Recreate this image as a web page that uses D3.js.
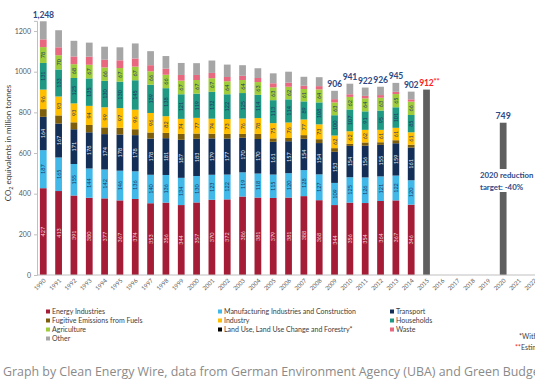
<!DOCTYPE html>
<html>
<head>
<meta charset="utf-8">
<script src="https://cdn.jsdelivr.net/npm/d3@7"></script>
<style>
  body { margin: 0; background: #fff; }
  svg { display: block; }
</style>
</head>
<body>
<div id="chartContainer"></div>
<script>
// Emissions per sector, million tonnes CO2 equivalents
const years = [1990, 1991, 1992, 1993, 1994, 1995, 1996, 1997, 1998, 1999, 2000, 2001, 2002,
  2003, 2004, 2005, 2006, 2007, 2008, 2009, 2010, 2011, 2012, 2013, 2014];
const energyIndustries = [427, 413, 391, 380, 377, 367, 374, 353, 356, 344, 357, 370, 372, 386, 381, 379, 381, 388, 368, 344, 356, 354, 364, 367, 346];
const manufacturing = [187, 165, 155, 144, 142, 146, 136, 140, 136, 134, 130, 123, 122, 119, 118, 115, 120, 128, 127, 109, 125, 126, 121, 122, 120];
const transport = [164, 167, 171, 178, 174, 178, 178, 178, 181, 187, 183, 179, 177, 170, 170, 161, 157, 154, 154, 153, 154, 156, 155, 159, 161];
const fugitive = [38, 40, 34, 36, 33, 33, 29, 30, 26, 29, 26, 23, 23, 19, 25, 17, 16, 18, 19, 18, 10, 16, 13, 15, 14];
const industry = [96, 93, 93, 94, 99, 97, 96, 96, 82, 74, 77, 74, 73, 76, 78, 75, 76, 77, 73, 62, 62, 62, 61, 61, 61];
const households = [131, 133, 125, 135, 130, 130, 145, 139, 138, 121, 119, 132, 122, 125, 114, 113, 114, 89, 108, 100, 107, 91, 95, 101, 85];
const agriculture = [78, 70, 68, 67, 66, 67, 67, 66, 66, 67, 67, 67, 64, 64, 63, 63, 62, 61, 64, 63, 62, 64, 63, 65, 66];
const waste = [38, 39, 38, 40, 38, 38, 40, 30, 30, 28, 25, 26, 21, 21, 20, 20, 20, 16, 16, 16, 13, 12, 13, 11, 11];
const other = [89, 84, 77, 69, 64, 64, 74, 69, 62, 59, 58, 61, 61, 52, 48, 49, 54, 44, 44, 41, 52, 41, 41, 44, 38];

// estimate and target bars
const projYears = [2015, 2020];
const projValues = [912, 749];

// x axis runs on to 2022
const allYears = [1990, 1991, 1992, 1993, 1994, 1995, 1996, 1997, 1998, 1999, 2000, 2001, 2002, 2003,
  2004, 2005, 2006, 2007, 2008, 2009, 2010, 2011, 2012, 2013, 2014, 2015, 2016, 2017, 2018, 2019,
  2020, 2021, 2022];
const yTicks = [0, 200, 400, 600, 800, 1000, 1200];
const totalLabelYears = [1990, 2009, 2010, 2011, 2012, 2013, 2014];

const sectors = [
  { key: "energy", name: "Energy Industries", values: energyIndustries, color: "#a51c36", label: "#f3d6dc" },
  { key: "manuf", name: "Manufacturing Industries and Construction", values: manufacturing, color: "#41b8e8", label: "#1f3864" },
  { key: "transport", name: "Transport", values: transport, color: "#132f57", label: "#e6ecf5" },
  { key: "fugitive", name: "Fugitive Emissions from Fuels", values: fugitive, color: "#7d5e0c", label: null },
  { key: "industry", name: "Industry", values: industry, color: "#ffbf00", label: "#1f3864" },
  { key: "households", name: "Households", values: households, color: "#1f9983", label: "#1f3864" },
  { key: "agriculture", name: "Agriculture", values: agriculture, color: "#9fcc3b", label: "#1f3864" },
  { key: "waste", name: "Waste", values: waste, color: "#e8687f", label: null },
  { key: "other", name: "Other", values: other, color: "#a6a6a6", label: null }
];

// legend: three columns like the original
const legendColumns = [
  [["Energy Industries", "#a51c36"], ["Fugitive Emissions from Fuels", "#7d5e0c"], ["Agriculture", "#9fcc3b"], ["Other", "#a6a6a6"]],
  [["Manufacturing Industries and Construction", "#41b8e8"], ["Industry", "#ffbf00"], ["Land Use, Land Use Change and Forestry*", "#000000"]],
  [["Transport", "#132f57"], ["Households", "#1f9983"], ["Waste", "#e8687f"]]
];

const width = 535, height = 384;
const font = "Lato, 'Liberation Sans', sans-serif";
const navy = "#2d4a86";

const svg = d3.select("#chartContainer")
  .append("svg")
  .attr("width", width)
  .attr("height", height)
  .style("font-family", font);

// Build rows for stacking
const rows = years.map((yr, i) => {
  const r = { year: yr };
  sectors.forEach(s => { r[s.key] = s.values[i]; });
  return r;
});
const stacked = d3.stack().keys(sectors.map(s => s.key))(rows);

const x = d3.scaleBand()
  .domain(allYears)
  .range([35.6, 541.5])
  .paddingInner(0.56)
  .paddingOuter(0.28);

const y = d3.scaleLinear()
  .domain([0, 1250])
  .range([275, 275 - 1250 * 0.2033]);

// y axis
const yAxis = svg.append("g")
  .attr("transform", "translate(37,0)")
  .call(d3.axisLeft(y).tickValues(yTicks).tickFormat(d3.format("d")).tickSize(3).tickPadding(3));
yAxis.select(".domain").attr("stroke", "#bfbfbf");
yAxis.selectAll(".tick line").attr("stroke", "#bfbfbf");
yAxis.selectAll(".tick text")
  .attr("fill", "#595959")
  .style("font-size", "7px")
  .style("font-family", font);

// y label
const yl = svg.append("text")
  .attr("transform", "translate(11,143) rotate(-90)")
  .attr("text-anchor", "middle")
  .attr("fill", "#404040")
  .style("font-size", "8px");
yl.append("tspan").text("CO");
yl.append("tspan").attr("dy", 2).style("font-size", "5.5px").text("2");
yl.append("tspan").attr("dy", -2).text(" equivalents in million tonnes");

// stacked bars
const layer = svg.selectAll(".layer")
  .data(stacked)
  .enter()
  .append("g")
  .attr("class", "layer")
  .attr("fill", (d, i) => sectors[i].color);

layer.selectAll("rect")
  .data(d => d)
  .enter()
  .append("rect")
  .attr("x", d => x(d.data.year))
  .attr("y", d => y(d[1]))
  .attr("width", x.bandwidth())
  .attr("height", d => y(d[0]) - y(d[1]));

// value labels inside segments
stacked.forEach((series, i) => {
  const s = sectors[i];
  if (!s.label) return;
  svg.append("g")
    .selectAll("text")
    .data(series)
    .enter()
    .append("text")
    .attr("transform", d => `translate(${x(d.data.year) + x.bandwidth() / 2 + 2},${y((d[0] + d[1]) / 2)}) rotate(-90)`)
    .attr("text-anchor", "middle")
    .attr("fill", s.label)
    .style("font-size", "5.5px")
    .text(d => d[1] - d[0]);
});

// projection bars
svg.selectAll(".proj")
  .data(projYears)
  .enter()
  .append("rect")
  .attr("class", "proj")
  .attr("x", d => x(d))
  .attr("y", (d, i) => y(projValues[i]))
  .attr("width", x.bandwidth())
  .attr("height", (d, i) => y(0) - y(projValues[i]))
  .attr("fill", "#5f5f5f");

// x axis line
svg.append("line")
  .attr("x1", 37).attr("x2", width)
  .attr("y1", y(0)).attr("y2", y(0))
  .attr("stroke", "#bfbfbf")
  .attr("stroke-width", 1.2);

// year labels
svg.append("g")
  .selectAll("text")
  .data(allYears)
  .enter()
  .append("text")
  .attr("transform", d => `translate(${x(d) + x.bandwidth() / 2 + 3},${y(0) + 6}) rotate(-45)`)
  .attr("text-anchor", "end")
  .attr("fill", "#595959")
  .style("font-size", "6px")
  .text(d => d);

// totals above bars
const fmt = d3.format(",");
svg.append("g")
  .selectAll("text")
  .data(rows.filter(r => totalLabelYears.includes(r.year)))
  .enter()
  .append("text")
  .attr("x", d => x(d.year) + x.bandwidth() / 2)
  .attr("y", d => y(d3.sum(sectors, s => d[s.key])) - 3.5)
  .attr("text-anchor", "middle")
  .attr("fill", navy)
  .style("font-size", "8.6px")
  .style("letter-spacing", "-0.2px")
  .style("font-weight", "bold")
  .text(d => fmt(d3.sum(sectors, s => d[s.key])));

// 2015 estimate label
const est = svg.append("text")
  .attr("x", x(projYears[0]) - 4)
  .attr("y", y(projValues[0]) - 4)
  .attr("fill", "#ff2020")
  .style("font-size", "8.6px")
  .style("letter-spacing", "-0.2px")
  .style("font-weight", "bold");
est.append("tspan").text(projValues[0]);
est.append("tspan").attr("dy", -2).style("font-size", "7.5px").text("**");

// 2020 label
svg.append("text")
  .attr("x", x(projYears[1]) + x.bandwidth() / 2)
  .attr("y", y(projValues[1]) - 4)
  .attr("text-anchor", "middle")
  .attr("fill", navy)
  .style("font-size", "8.8px")
  .style("font-weight", "bold")
  .text(projValues[1]);

// target note with white box over 2020 bar
svg.append("rect")
  .attr("x", 478).attr("y", 169)
  .attr("width", 60).attr("height", 23)
  .attr("fill", "#fff");
const tgt = svg.append("text")
  .attr("fill", navy)
  .style("font-size", "7.8px")
  .style("font-weight", "bold");
tgt.append("tspan").attr("x", 480).attr("y", 178).text("2020 reduction");
tgt.append("tspan").attr("x", 480).attr("y", 190).text("target: -40%");

// legend
const legendX = [46, 218, 390];
legendColumns.forEach((col, ci) => {
  const g = svg.append("g").attr("transform", `translate(${legendX[ci]},313)`);
  const item = g.selectAll("g")
    .data(col)
    .enter()
    .append("g")
    .attr("transform", (d, i) => `translate(0,${i * 9})`);
  item.append("rect")
    .attr("x", 0).attr("y", -3.5)
    .attr("width", 4).attr("height", 4)
    .attr("fill", d => d[1]);
  item.append("text")
    .attr("x", 6).attr("y", 0.5)
    .attr("fill", "#404040")
    .style("font-size", "7px")
    .text(d => d[0]);
});

// footnotes (cut off at the right edge)
svg.append("text")
  .attr("x", 519).attr("y", 339)
  .attr("fill", "#404040")
  .style("font-size", "7px")
  .text("*Without international transport");
const fn2 = svg.append("text")
  .attr("x", 515).attr("y", 350)
  .style("font-size", "7px");
fn2.append("tspan").attr("fill", "#ff2020").text("**");
fn2.append("tspan").attr("fill", "#404040").text("Estimate");

// caption
svg.append("text")
  .attr("x", 3).attr("y", 376)
  .attr("fill", "#8a8a8a")
  .style("font-family", "'Open Sans', sans-serif")
  .style("font-size", "12.4px")
  .text("Graph by Clean Energy Wire, data from German Environment Agency (UBA) and Green Budget Germany (FÖS)");
</script>
</body>
</html>
